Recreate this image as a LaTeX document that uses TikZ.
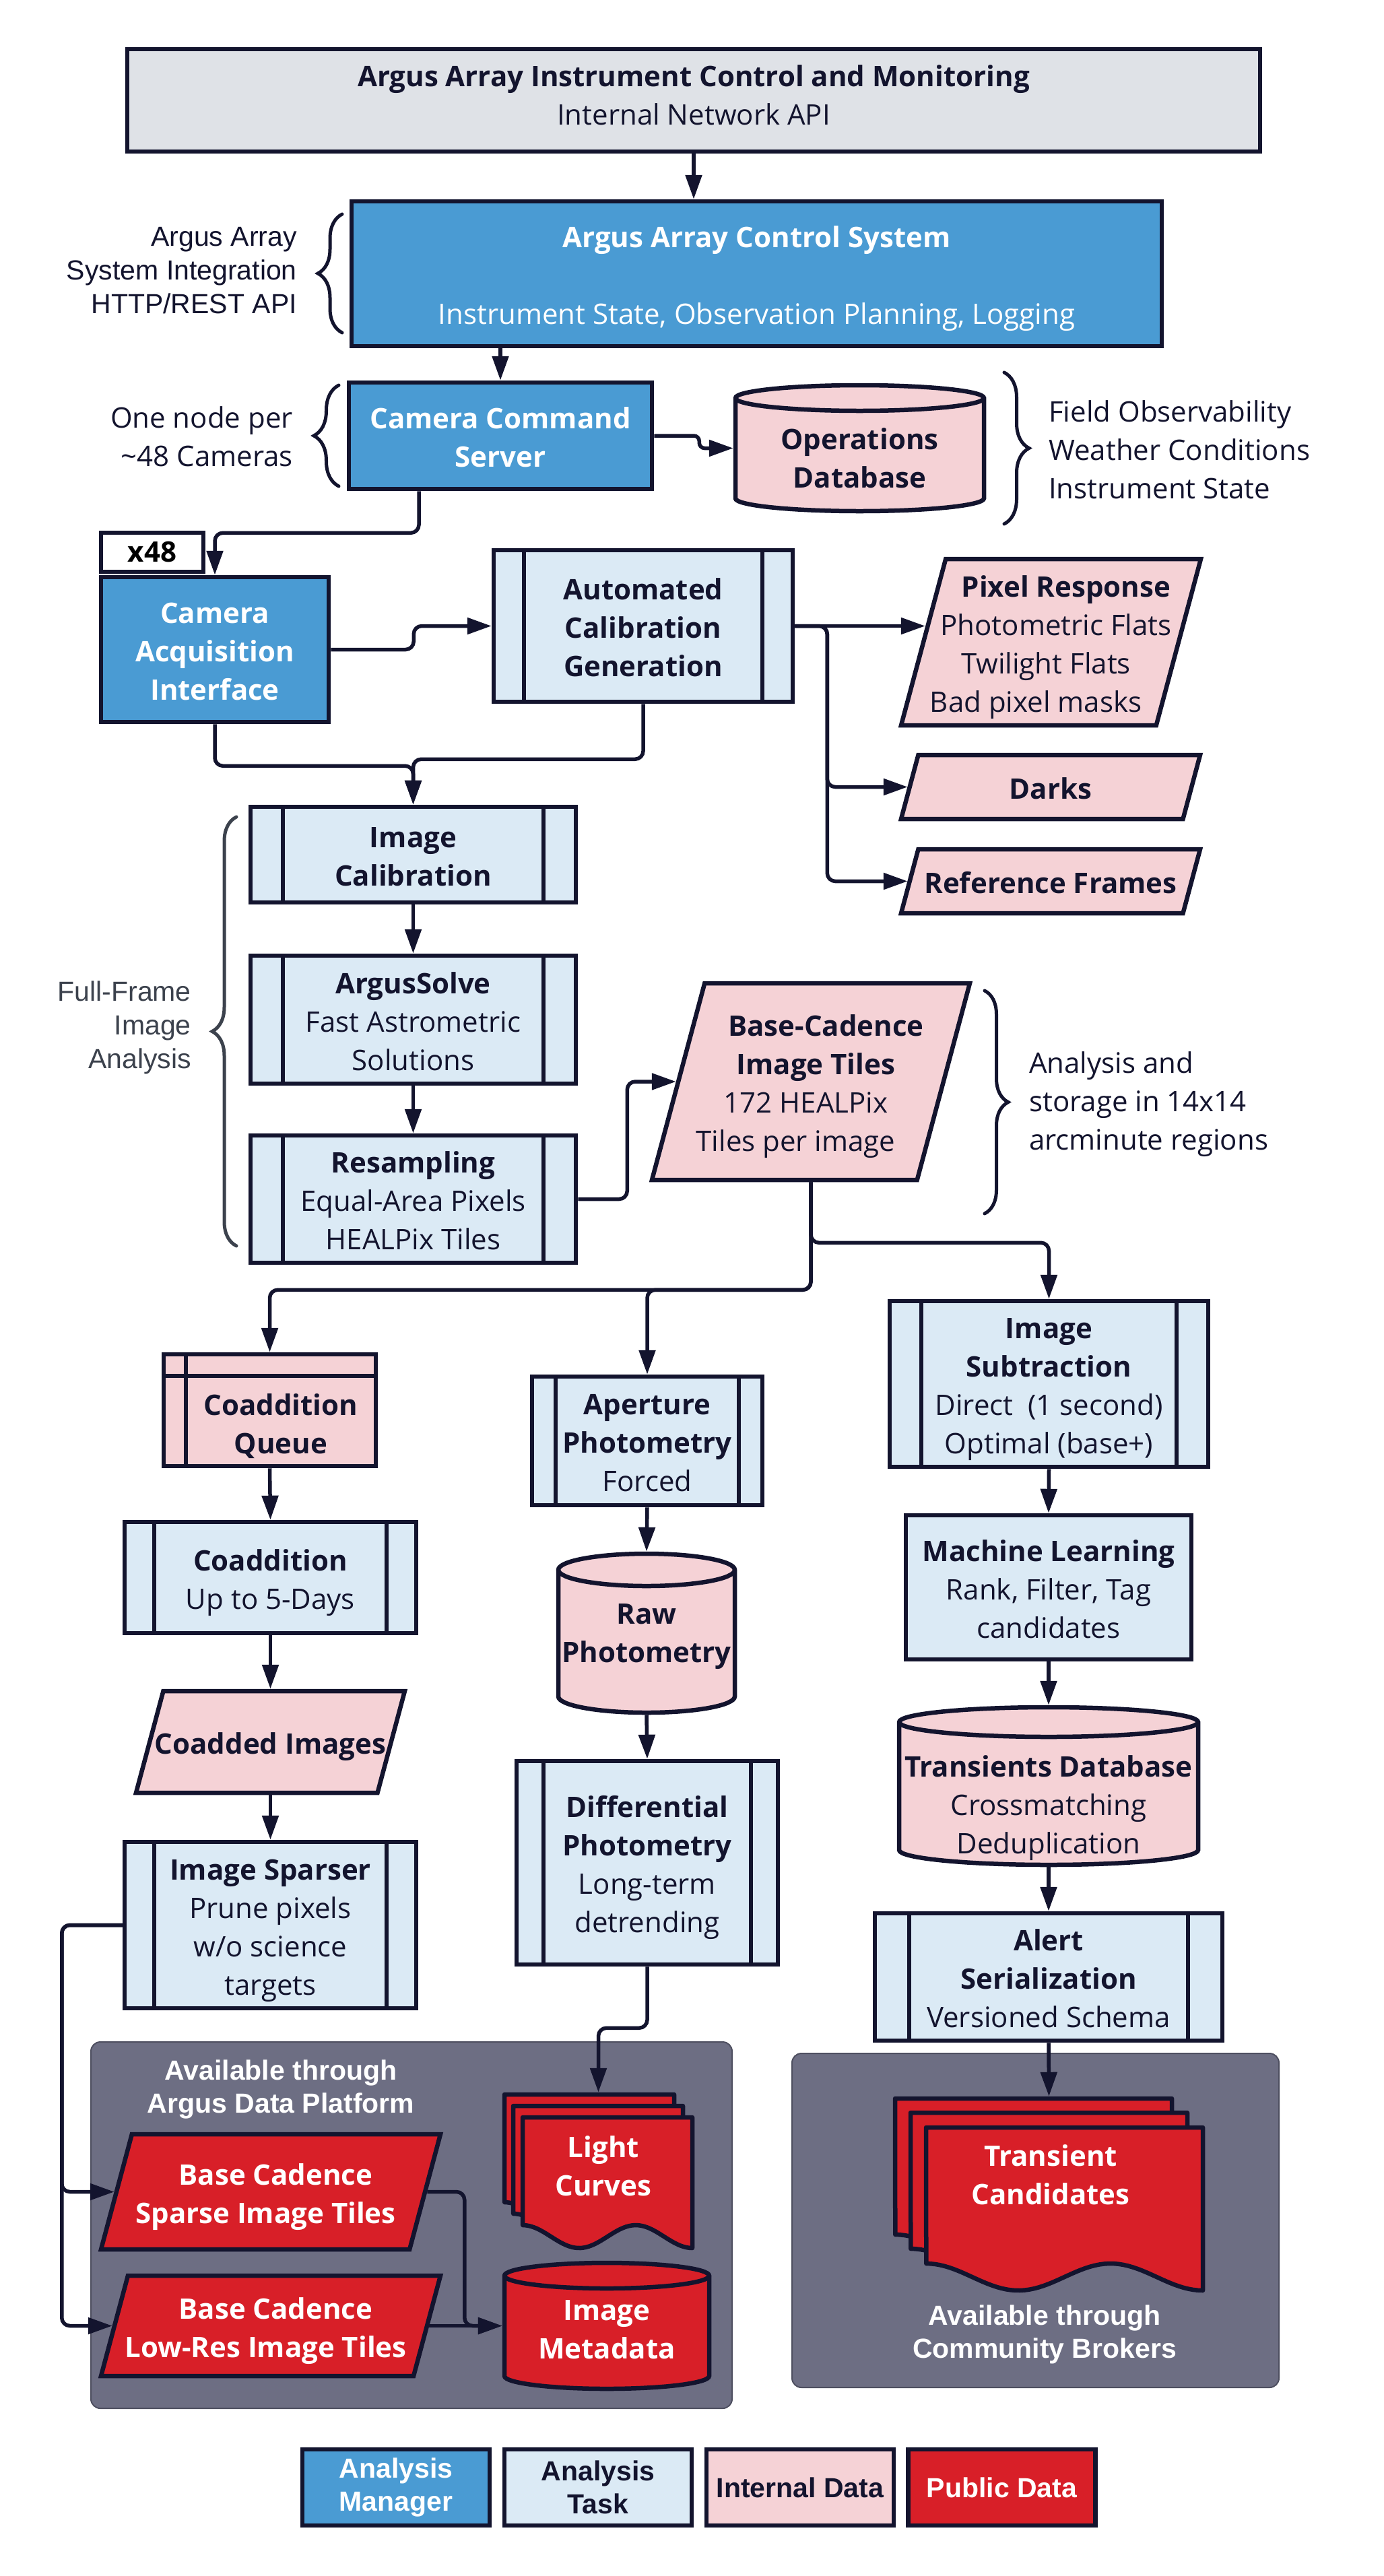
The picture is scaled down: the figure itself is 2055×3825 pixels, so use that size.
\documentclass[tikz,border=0pt]{standalone}
\usepackage{fontspec}
\setmainfont{Open Sans}
\newfontfamily\arialf{Liberation Sans}
\usetikzlibrary{arrows.meta,shapes.geometric,decorations.pathreplacing,calc}
\definecolor{navy}{HTML}{13142E}
\definecolor{topgrey}{HTML}{DFE2E7}
\definecolor{mblue}{HTML}{4A9BD3}
\definecolor{tblue}{HTML}{DBEAF5}
\definecolor{ipink}{HTML}{F5D2D6}
\definecolor{pred}{HTML}{D81F28}
\definecolor{panel}{HTML}{6D6E83}
\definecolor{panelb}{HTML}{4E4F60}
\definecolor{ffgray}{HTML}{3C424D}
\newcommand\msz{\fontsize{42pt}{57pt}\selectfont}
\newcommand\asz{\arialf\fontsize{41pt}{50pt}\selectfont}
\newcommand\absz{\arialf\bfseries\fontsize{41pt}{49pt}\selectfont}
\newcommand\fs{\rule{0pt}{47pt}}
\newcommand\shl[2]{\hbox{\kern#1\relax#2\kern-#1\relax}}
\newcommand\docsheet[6]{\draw[line width=6.5pt, draw=navy, fill=#6, line join=round] (#1,#2) -- ({#1+#3},#2) -- ({#1+#3},{#2+#4+#5}) -- plot[domain=1:0, samples=60] ({#1+#3*\x},{#2+#4+#5/2*(1-cos(540*\x))}) -- cycle;}
\newcommand\cylshape[6]{%
  \pgfmathsetmacro\rx{(#3-#1)/2}%
  \draw[line width=6.5pt, draw=navy, fill=#6] (#1,{#2+#5}) -- (#1,{#4-#5}) arc[start angle=180,end angle=360,x radius=\rx pt,y radius=#5pt] -- (#3,{#2+#5}) arc[start angle=0,end angle=180,x radius=\rx pt,y radius=#5pt] -- cycle;
  \draw[line width=6.5pt, draw=navy] (#1,{#2+#5}) arc[start angle=180,end angle=360,x radius=\rx pt,y radius=#5pt];}
\newcommand\parashape[5]{%
  \pgfmathsetmacro\ps{0.268*#4}%
  \draw[line width=6.5pt, draw=navy, fill=#5, line join=miter] ({#1-#3/2},{#2+#4/2}) -- ({#1+#3/2-\ps},{#2+#4/2}) -- ({#1+#3/2},{#2-#4/2}) -- ({#1-#3/2+\ps},{#2-#4/2}) -- cycle;}
\begin{document}
\begin{tikzpicture}[x=1pt,y=-1pt,
  tfix/.style={execute at end node={\rule[-11pt]{0pt}{11pt}}},
  topfix/.style={execute at end node={\rule[-16pt]{0pt}{16pt}}},
  bxb/.style={draw=navy, line width=6.5pt, inner sep=0pt, align=center, font=\msz, text=navy},
  bx/.style={bxb, tfix},
  mgr/.style={bx, fill=mblue, text=white},
  task/.style={bx, fill=tblue, path picture={\draw[navy, line width=6.5pt] ([xshift=#1]path picture bounding box.north west) -- ([xshift=#1]path picture bounding box.south west) ([xshift=-#1]path picture bounding box.north east) -- ([xshift=-#1]path picture bounding box.south east);}},
  task/.default=46pt,
  anch/.style={inner sep=0pt, outer sep=3.25pt, draw=none},
  pnode/.style={anch, align=center, font=\msz, text=navy, tfix},
  lbl/.style={inner sep=0pt, align=center, font=\msz, text=navy, tfix},
  conn/.style={draw=navy, line width=5.5pt, rounded corners=12pt, -{Triangle[length=36pt,width=24pt]}},
  brc/.style={draw=navy, line width=5pt, line cap=round, decorate, decoration={brace, amplitude=#1}},
  panelst/.style={fill=panel, draw=panelb, line width=2pt, rounded corners=14pt, inner sep=0pt},
  lgd/.style={bxb, font=\absz}
]
\fill[white] (0,0) rectangle (2055,3825);
\useasboundingbox (0,0) rectangle (2055,3825);

% panels
\node[panelst, minimum width=952pt, minimum height=544pt] (pnl1) at (611,3304) {};
\node[panelst, minimum width=723pt, minimum height=496pt] (pnl2) at (1537.5,3297) {};

% top
\node[bxb, topfix, fill=topgrey, minimum width=1682pt, minimum height=152pt] (top) at (1030,149) {\textbf{Argus Array Instrument Control and Monitoring}\\Internal Network API};
\node[mgr, minimum width=1203pt, minimum height=215pt] (cs) at (1123.5,406.5) {\fs\textbf{Argus Array Control System}\\[57pt]Instrument State, Observation Planning, Logging};
\node[mgr, minimum width=450pt, minimum height=158pt] (ccs) at (743,647) {\fs\textbf{Camera Command}\\\textbf{Server}};

% ops db
\cylshape{1092}{572}{1461}{759}{19}{ipink}
\node[anch, minimum width=369pt, minimum height=187pt] (opsdb) at (1276.5,665.5) {};
\node[lbl] (opsdbt) at (1276.5,678) {\fs\textbf{Operations}\\\textbf{Database}};

\node[bxb, fill=white, text=black, minimum width=152pt, minimum height=58pt] (x48) at (226,820) {\textbf{x48}};
\node[mgr, minimum width=338pt, minimum height=215pt] (cai) at (319,964.5) {\fs\textbf{Camera}\\\textbf{Acquisition}\\\textbf{Interface}};
\node[task=45pt, minimum width=444pt, minimum height=225pt] (acg) at (955,929.5) {\fs\textbf{Automated}\\\textbf{Calibration}\\\textbf{Generation}};

\parashape{1560.5}{953.5}{445}{247}{ipink}
\node[pnode, minimum width=379pt, minimum height=247pt] (pr) at (1560.5,953.5) {\fs\shl{22.5pt}{\textbf{Pixel Response}}\\\shl{7.5pt}{Photometric Flats}\\\shl{-7.5pt}{Twilight Flats}\\\shl{-22.5pt}{Bad pixel masks}};
\parashape{1560}{1168.5}{444}{95}{ipink}
\node[pnode, minimum width=418pt, minimum height=95pt] (darks) at (1560,1168.5) {\fs\textbf{Darks}};
\parashape{1560}{1308.5}{444}{95}{ipink}
\node[pnode, minimum width=418pt, minimum height=95pt] (ref) at (1560,1308.5) {\fs\textbf{Reference Frames}};

\node[task=48pt, minimum width=483pt, minimum height=142pt] (ic) at (613.5,1269) {\fs\textbf{Image}\\\textbf{Calibration}};
\node[task=48pt, minimum width=483pt, minimum height=190pt] (asv) at (613.5,1514) {\fs\textbf{ArgusSolve}\\Fast Astrometric\\Solutions};
\node[task=48pt, minimum width=483pt, minimum height=189pt] (rsm) at (613.5,1780.5) {\fs\textbf{Resampling}\\Equal-Area Pixels\\HEALPix Tiles};

\parashape{1204}{1606}{472}{292}{ipink}
\node[pnode, minimum width=394pt, minimum height=292pt] (bc) at (1204,1606) {\fs\shl{22.5pt}{\textbf{Base-Cadence}}\\\shl{7.5pt}{\textbf{Image Tiles}}\\\shl{-7.5pt}{172 HEALPix}\\\shl{-22.5pt}{Tiles per image}};

% left column
\node[bxb, fill=ipink, minimum width=315pt, minimum height=166pt, path picture={\draw[navy,line width=6.5pt] ([xshift=33pt]path picture bounding box.north west) -- ([xshift=33pt]path picture bounding box.south west) ([yshift=-32pt]path picture bounding box.north west) -- ([yshift=-32pt]path picture bounding box.north east);}] (cq) at (400.5,2094) {};
\node[lbl] (cqt) at (417,2111.5) {\fs\textbf{Coaddition}\\\textbf{Queue}};
\node[task=44pt, minimum width=433pt, minimum height=165pt] (coadd) at (401.5,2342.5) {\fs\textbf{Coaddition}\\Up to 5-Days};
\parashape{401.5}{2586.5}{399}{151}{ipink}
\node[pnode, minimum width=358pt, minimum height=151pt] (coadded) at (401.5,2586.5) {\fs\textbf{Coadded Images}};
\node[task=44pt, minimum width=433pt, minimum height=247pt] (sparser) at (401.5,2858.5) {\fs\textbf{Image Sparser}\\Prune pixels\\w/o science\\targets};

% middle column
\node[task=35pt, minimum width=342pt, minimum height=191pt] (ap) at (961,2139.5) {\fs\textbf{Aperture}\\\textbf{Photometry}\\Forced};
\cylshape{829}{2307}{1091}{2543}{24}{ipink}
\node[anch, minimum width=262pt, minimum height=236pt] (raw) at (960,2425) {};
\node[lbl] (rawt) at (960,2422) {\fs\textbf{Raw}\\\textbf{Photometry}};
\node[task=40pt, minimum width=388pt, minimum height=302pt] (diff) at (961,2766) {\fs\textbf{Differential}\\\textbf{Photometry}\\Long-term\\detrending};

% right column
\node[task=47pt, minimum width=473pt, minimum height=246pt] (imgsub) at (1557.5,2055) {\fs\textbf{Image}\\\textbf{Subtraction}\\Direct~~(1 second)\\Optimal (base+)};
\node[bx, fill=tblue, minimum width=424pt, minimum height=214pt] (ml) at (1557,2357) {\fs\textbf{Machine Learning}\\Rank, Filter, Tag\\candidates};
\cylshape{1335}{2535}{1779}{2769}{22}{ipink}
\node[anch, minimum width=444pt, minimum height=234pt] (tdb) at (1557,2652) {};
\node[lbl] (tdbt) at (1557,2677) {\fs\textbf{Transients Database}\\Crossmatching\\Deduplication};
\node[task=51pt, minimum width=516pt, minimum height=189pt] (alert) at (1557,2935.5) {\fs\textbf{Alert}\\\textbf{Serialization}\\Versioned Schema};

% public data
\node[inner sep=0pt, align=center, font=\absz, text=white] (adp) at (417,3102) {Available through\\Argus Data Platform};
\parashape{402}{3254.5}{504}{171}{pred}
\node[pnode, text=white, minimum width=458pt, minimum height=171pt] (sparse) at (402,3254.5) {\fs\shl{7.5pt}{\textbf{Base Cadence}}\\\shl{-7.5pt}{\textbf{Sparse Image Tiles}}};
\parashape{402}{3453.5}{504}{149}{pred}
\node[pnode, text=white, minimum width=464pt, minimum height=149pt] (lowres) at (402,3453.5) {\fs\shl{7.5pt}{\textbf{Base Cadence}}\\\shl{-7.5pt}{\textbf{Low-Res Image Tiles}}};
\docsheet{749}{3110}{252}{160}{34}{pred}
\docsheet{762}{3127}{252}{160}{34}{pred}
\docsheet{776}{3144}{252}{160}{34}{pred}
\node[anch, minimum width=279pt, minimum height=232pt] (lc) at (888.5,3226) {};
\node[lbl, text=white] (lct) at (896,3214) {\fs\textbf{Light}\\\textbf{Curves}};
\cylshape{749}{3360}{1053}{3547}{19}{pred}
\node[anch, minimum width=304pt, minimum height=187pt] (meta) at (901,3453.5) {};
\node[lbl, text=white] (metat) at (901,3456) {\fs\textbf{Image}\\\textbf{Metadata}};

\docsheet{1329}{3116}{411}{202}{40}{pred}
\docsheet{1352}{3137}{411}{202}{40}{pred}
\docsheet{1375}{3159}{411}{202}{40}{pred}
\node[anch, minimum width=457pt, minimum height=286pt] (tc) at (1557.5,3259) {};
\node[lbl, text=white] (tct) at (1560,3227) {\fs\textbf{Transient}\\\textbf{Candidates}};
\node[inner sep=0pt, align=center, font=\absz, text=white] (cb) at (1551,3466) {Available through\\Community Brokers};

% side labels
\node[anchor=east, inner sep=0pt, align=right, font=\asz, text=navy] (sysint) at (441,402) {Argus Array\\System Integration\\HTTP/REST API};
\node[anchor=east, inner sep=0pt, align=right, font=\msz, text=navy] (onenode) at (435,648.5) {One node per\\\textasciitilde48 Cameras};
\node[anchor=west, inner sep=0pt, align=left, font=\msz, text=navy] (fieldobs) at (1557,667.5) {Field Observability\\Weather Conditions\\Instrument State};
\node[anchor=east, inner sep=0pt, align=right, font=\asz, text=ffgray] (ffia) at (284,1526) {Full-Frame\\Image\\Analysis};
\node[anchor=west, inner sep=0pt, align=left, font=\msz, text=navy] (anst) at (1528,1640) {Analysis and\\storage in 14x14\\arcminute regions};

% braces
\draw[brc=36pt] (508,494) -- (508,318);
\draw[brc=37pt] (503,722) -- (503,572);
\draw[brc=37pt] (1491,553) -- (1491,778);
\draw[brc=36pt, draw=ffgray] (351,1850) -- (351,1213);
\draw[brc=35pt] (1462,1471) -- (1462,1802);

% connectors
\draw[conn] (top.south) -- (top.south |- cs.north);
\draw[conn] (ccs.north |- cs.south) -- (ccs.north);
\draw[conn, rounded corners=8pt] (ccs.east) -- ++(67,0) |- (opsdb.west);
\draw[conn] ([xshift=-121pt]ccs.south) -- ++(0,62) -| (cai.north);
\draw[conn] (cai.east) -- ++(123,0) |- (acg.west);
\draw[conn] (acg.east) -- ($(acg.east -| pr.west)+(6,0)$);
\draw[conn] (acg.east) -- ++(48,0) |- (darks.west);
\draw[conn] (acg.east) -- ++(48,0) |- (ref.west);
\draw[conn] (cai.south) -- ++(0,62) -| (ic.north);
\draw[conn] (acg.south) -- ++(0,82) -| (ic.north);
\draw[conn] (ic.south) -- (asv.north);
\draw[conn] (asv.south) -- (rsm.north);
\draw[conn] (rsm.east) -- ++(73,0) |- (bc.west);
\coordinate (bcb) at (bc.south);
\draw[conn] (bcb) -- ++(0,90) -| (imgsub.north);
\draw[conn] (bcb) -- ++(0,160) -| (cq.north);
\draw[conn] (bcb) -- ++(0,160) -| (ap.north);
\draw[conn] (cq.south) -- (coadd.north);
\draw[conn] (coadd.south) -- (coadded.north);
\draw[conn] (coadded.south) -- (sparser.north);
\draw[conn] (sparser.west) -- ++(-90,0) |- (sparse.west);
\draw[conn] (sparser.west) -- ++(-90,0) |- (lowres.west);
\coordinate (mj) at ($(meta.west)+(-56,0)$);
\draw[conn] (sparse.east) -| (mj) -- (meta.west);
\draw[conn] (lowres.east) -- (meta.west);
\draw[conn] (ap.south) -- (raw.north);
\draw[conn] (raw.south) -- (diff.north);
\draw[conn] (diff.south) -- ++(0,91) -| (lc.north);
\draw[conn] (imgsub.south) -- (ml.north);
\draw[conn] (ml.south) -- (tdb.north);
\draw[conn] (tdb.south) -- (alert.north);
\draw[conn] (alert.south) -- (tc.north);

% legend
\node[lgd, fill=mblue, text=white, minimum width=278pt, minimum height=113pt] (lgam) at (588,3693.5) {Analysis\\Manager};
\node[lgd, fill=tblue, minimum width=278pt, minimum height=113pt] (lgat) at (888,3693.5) {Analysis\\Task};
\node[lgd, fill=ipink, minimum width=278pt, minimum height=113pt] (lgid) at (1188,3693.5) {Internal Data};
\node[lgd, fill=pred, text=white, minimum width=278pt, minimum height=113pt] (lgpd) at (1487.5,3693.5) {Public Data};
\end{tikzpicture}
\end{document}
